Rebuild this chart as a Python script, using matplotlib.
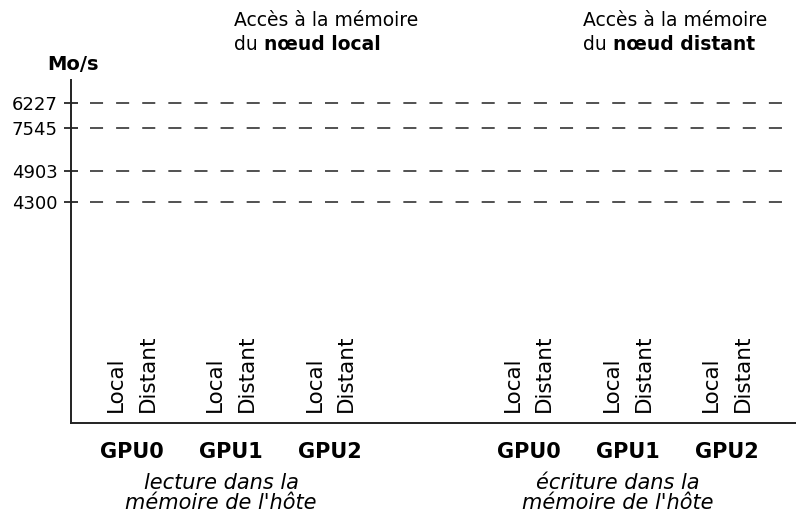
import matplotlib
matplotlib.use("Agg")
import matplotlib.pyplot as plt

plt.rcParams["font.family"] = ["DejaVu Sans"]
plt.rcParams["lines.scale_dashes"] = False

# levels shown on the y axis (label text and where each line sits)
level_labels = ["6227", "7545", "4903", "4300"]
level_pos = [6227, 5740, 4903, 4300]

gpus = ["GPU0", "GPU1", "GPU2"]
groups = ["lecture dans la\nmémoire de l'hôte", "écriture dans la\nmémoire de l'hôte"]
group_start = [0, 4]
bar_names = ["Local", "Distant"]
bar_offset = [-0.16, 0.16]
top_notes = [("Accès à la mémoire", "du ", "nœud local"),
             ("Accès à la mémoire", "du ", "nœud distant")]

fig = plt.figure(figsize=(7.96, 5.17), dpi=100)
ax = fig.add_axes([0.0892, 0.1818, 0.9108, 0.6635])

ax.set_xlim(-0.616, 6.70)
ax.set_ylim(0, 6670)

for y in level_pos:
    ax.hlines(y, -0.42, 6.64, colors="#222222", lw=1.1,
              linestyles=(0, (9.4, 9.4)))

ax.set_yticks(level_pos)
ax.set_yticklabels(level_labels, fontsize=13)
ax.tick_params(axis="y", direction="inout", length=9.4, width=1.1, pad=5)
ax.set_xticks([])

for s in ["top", "right"]:
    ax.spines[s].set_visible(False)
for s in ["left", "bottom"]:
    ax.spines[s].set_linewidth(1.4)
    ax.spines[s].set_color("#222222")

for g, start in enumerate(group_start):
    for i, gpu in enumerate(gpus):
        x = start + i
        for name, off in zip(bar_names, bar_offset):
            ax.annotate(name, (x + off, 0), xytext=(0, 8), textcoords="offset points",
                        rotation=90, ha="center", va="bottom", fontsize=15.5)
        ax.annotate(gpu, (x, 0), xytext=(0, -14), textcoords="offset points",
                    ha="center", va="top", fontsize=15, fontweight="bold")
    ax.annotate(groups[g], (start + 0.9, 0), xytext=(0, -36), textcoords="offset points",
                ha="center", va="top", fontsize=15, style="italic", linespacing=1.02)

fig.text(0.0917, 1 - 65 / 517, "Mo/s", ha="center", va="center", fontsize=14,
         fontweight="bold")

for (line1, pre, bold), xl in zip(top_notes, [234, 583]):
    fig.text(xl / 796, 1 - 20 / 517, line1, ha="left", va="center", fontsize=13.5)
    t = fig.text(xl / 796, 1 - 45 / 517, pre, ha="left", va="center", fontsize=13.5)
    fig.canvas.draw()
    bb = t.get_window_extent()
    fig.text(bb.x1 / fig.bbox.width, 1 - 45 / 517, bold, ha="left", va="center",
             fontsize=13.5, fontweight="bold")

fig.savefig("out.png", dpi=100)
